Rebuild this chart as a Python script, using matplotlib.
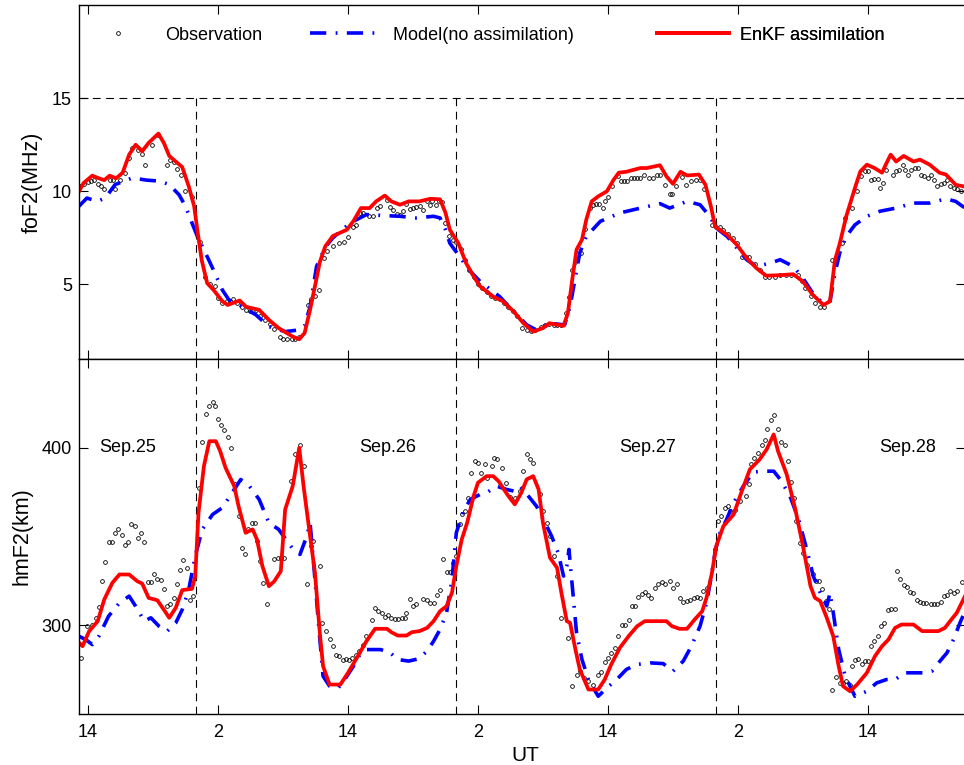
import matplotlib
matplotlib.use("Agg")
import matplotlib.pyplot as plt
import numpy as np

plt.rcParams['font.family'] = ['Liberation Sans', 'DejaVu Sans']

# hours counted from Sep.25 00 UT
fof2_obs_t = [13.3, 13.6, 14.0, 14.3, 14.6, 14.9, 15.2, 15.5, 16.0, 16.3, 16.5, 17.0, 17.4, 17.8, 18.1, 18.6,
              19.0, 19.3, 19.9, 20.5, 21.3, 21.6, 21.9, 22.2, 22.6, 23.0, 23.6, 24.3, 24.8, 25.3, 25.7, 26.0,
              26.4, 26.8, 27.1, 27.4, 27.8, 28.2, 28.6, 29.0, 29.5, 29.9, 30.3, 30.8, 31.2, 31.7, 32.0, 32.4,
              32.8, 33.1, 33.5, 34.3, 34.6, 35.0, 35.3, 35.8, 36.1, 36.6, 37.2, 37.6, 38.0, 38.5, 38.7, 39.1,
              39.4, 39.9, 40.3, 40.7, 41.0, 41.6, 41.9, 42.2, 42.5, 42.8, 43.1, 43.4, 43.7, 44.0, 44.3, 44.65,
              44.9, 45.3, 45.6, 45.8, 46.1, 46.4, 46.7, 47.0, 47.3, 47.7, 48.0, 48.4, 48.8, 49.2, 49.6, 50.0,
              50.4, 50.8, 51.2, 51.6, 52.0, 52.4, 52.8, 53.2, 53.6, 54.1, 54.5, 54.9, 55.3, 55.8, 56.2, 56.6,
              57.0, 57.3, 57.7, 58.1, 58.4, 58.7, 59.0, 59.5, 59.9, 60.3, 60.6, 60.9, 61.2, 61.5, 61.7, 62.0,
              62.4, 62.9, 63.2, 63.5, 63.8, 64.1, 64.4, 64.7, 65.0, 65.3, 65.8, 66.2, 66.5, 66.8, 67.3, 67.7,
              67.9, 68.3, 68.8, 69.2, 69.7, 70.1, 70.5, 70.9, 71.6, 72.0, 72.3, 72.6, 73.1, 73.5, 73.9, 74.4,
              74.7, 75.0, 75.6, 76.0, 76.5, 76.9, 77.4, 77.9, 78.4, 78.9, 79.5, 79.9, 80.2, 80.7, 81.1, 81.6,
              81.9, 82.7, 83.1, 83.6, 83.9, 84.5, 85.0, 85.4, 85.7, 86.0, 86.3, 86.6, 86.9, 87.1, 87.4, 87.7,
              88.3, 88.6, 88.9, 89.2, 89.4, 89.7, 90.0, 90.3, 90.6, 90.9, 91.2, 91.5, 91.8, 92.1, 92.4, 92.7,
              93.0, 93.3, 93.6, 93.9, 94.2, 94.6]
fof2_obs = [10.3, 10.4, 10.5, 10.54, 10.6, 10.4, 10.3, 10.1, 10.6, 10.6, 10.1, 10.6, 11.0, 11.8, 12.3, 12.2,
            12.0, 11.4, 12.5, 13.0, 11.4, 11.7, 11.6, 11.2, 10.9, 10.0, 9.7, 7.3, 5.4, 5.0, 4.9, 4.3,
            4.0, 4.1, 4.1, 4.2, 4.0, 3.8, 3.64, 3.6, 3.64, 3.3, 3.1, 2.9, 2.6, 2.2, 2.1, 2.05,
            2.05, 2.1, 2.2, 3.9, 4.2, 4.4, 4.7, 6.4, 6.8, 7.05, 7.2, 7.3, 7.55, 8.1, 8.17, 8.84,
            8.83, 8.7, 8.69, 9.1, 9.19, 9.55, 9.14, 8.98, 8.8, 8.75, 8.96, 9.32, 9.05, 9.1, 9.14, 9.19,
            9.0, 9.46, 9.28, 9.46, 9.28, 9.46, 9.4, 8.3, 7.58, 7.4, 7.3, 6.9, 6.3, 5.8, 5.4, 5.0,
            4.8, 4.6, 4.4, 4.3, 4.2, 4.0, 3.8, 3.55, 3.3, 2.66, 2.55, 2.5, 2.55, 2.7, 2.85, 2.9,
            2.85, 2.8, 2.8, 3.46, 4.35, 5.8, 6.2, 6.7, 8.0, 9.1, 9.25, 9.3, 9.3, 9.1, 9.5, 9.7,
            10.27, 10.8, 10.57, 10.57, 10.57, 10.7, 10.7, 10.7, 10.7, 10.9, 10.7, 10.7, 10.9, 10.9, 10.36, 9.88,
            9.88, 10.26, 10.75, 10.36, 10.55, 10.6, 10.6, 10.1, 8.2, 8.1, 8.1, 7.9, 7.7, 7.5, 7.2, 6.5,
            6.5, 6.5, 6.1, 5.8, 5.4, 5.4, 5.4, 5.5, 5.5, 5.5, 5.5, 5.2, 4.8, 4.4, 4.0, 3.8,
            3.8, 6.3, 6.5, 7.2, 8.57, 9.1, 10.0, 10.8, 11.1, 11.1, 10.6, 10.65, 10.65, 10.2, 10.47, 11.17,
            10.9, 11.07, 11.17, 11.4, 11.17, 10.9, 11.17, 11.25, 11.25, 10.9, 10.8, 10.7, 10.9, 10.6, 10.3, 10.4,
            10.45, 10.6, 10.3, 10.18, 10.1, 10.0]

fof2_model_t = [13.17, 13.9, 14.85, 15.6, 16.5, 18.1, 19.4, 20.6, 21.5, 22.4, 23.0, 23.6, 24.1, 24.7, 25.5,
                26.4, 27.0, 28.2, 29.5, 30.7, 32.2, 33.5, 34.0, 34.5, 35.1, 35.9, 36.6, 38.2, 39.7, 41.3,
                42.8, 44.3, 45.9, 46.5, 47.0, 47.4, 48.4, 49.3, 50.2, 52.0, 53.3, 54.5, 55.4, 56.6, 58.0,
                58.5, 58.95, 59.4, 60.0, 61.3, 63.1, 65.0, 66.8, 67.7, 69.3, 70.5, 71.4, 72.0, 73.0, 73.9,
                74.8, 75.7, 77.0, 77.9, 79.1, 80.0, 80.9, 81.9, 82.5, 82.95, 83.4, 84.0, 84.8, 85.9, 87.1,
                88.6, 90.2, 91.7, 93.2, 94.1, 94.96]
fof2_model = [9.2, 9.64, 9.46, 9.64, 10.36, 10.72, 10.6, 10.55, 10.36, 9.82, 9.2, 8.3, 7.58, 6.87, 5.88,
              4.71, 4.18, 3.82, 3.37, 2.74, 2.47, 2.56, 2.8, 3.8, 5.97, 7.0, 7.5, 8.3, 8.75, 8.7,
              8.66, 8.57, 8.66, 8.57, 7.94, 7.22, 6.42, 5.7, 5.16, 4.35, 3.55, 2.83, 2.56, 2.92, 2.83,
              3.82, 5.25, 6.7, 7.58, 8.39, 8.84, 9.1, 9.34, 9.1, 9.46, 9.28, 8.66, 8.03, 7.58, 6.96,
              6.33, 5.97, 6.15, 6.33, 5.97, 5.34, 4.54, 3.96, 4.1, 5.6, 6.7, 7.58, 8.2, 8.66, 8.93,
              9.1, 9.37, 9.37, 9.6, 9.46, 9.1]

fof2_enkf_t = [13.17, 13.6, 14.4, 15.0, 15.5, 16.0, 16.6, 17.2, 17.8, 18.4, 19.0, 19.6, 20.5, 21.0, 21.5,
               22.1, 22.7, 23.3, 23.8, 24.1, 24.5, 25.0, 25.6, 26.4, 26.9, 28.0, 28.6, 29.8, 30.7, 31.6,
               32.9, 33.5, 34.0, 34.5, 34.95, 35.4, 35.9, 36.6, 37.9, 38.5, 39.2, 40.0, 40.6, 41.4, 42.0,
               42.8, 43.6, 44.6, 45.6, 46.5, 47.0, 47.4, 48.2, 48.9, 49.6, 50.2, 51.4, 52.3, 53.3, 54.2,
               55.1, 56.0, 56.6, 57.9, 58.3, 58.7, 59.1, 59.6, 60.0, 60.5, 61.1, 61.9, 62.5, 63.0, 63.7,
               65.0, 65.6, 66.8, 67.4, 68.0, 68.7, 69.3, 70.4, 71.0, 71.5, 71.9, 73.0, 73.9, 74.8, 75.7,
               76.6, 77.9, 79.1, 80.0, 80.9, 81.9, 82.5, 82.95, 83.4, 84.0, 84.8, 85.3, 85.9, 86.6, 87.3,
               87.7, 88.1, 88.6, 89.3, 90.2, 90.8, 91.7, 92.6, 93.2, 94.1, 94.96]
fof2_enkf = [10.0, 10.45, 10.84, 10.7, 10.6, 10.84, 10.7, 11.0, 11.97, 12.5, 12.15, 12.6, 13.1, 12.6, 11.9,
             11.6, 11.3, 10.27, 9.2, 7.9, 6.3, 5.07, 4.7, 4.1, 3.9, 4.14, 3.8, 3.64, 3.1, 2.66,
             2.2, 2.06, 2.4, 3.64, 4.9, 6.2, 7.04, 7.6, 7.94, 8.4, 9.1, 9.1, 9.46, 9.77, 9.46,
             9.28, 9.46, 9.46, 9.6, 9.57, 8.85, 7.94, 7.2, 6.15, 5.43, 4.9, 4.35, 4.1, 3.55, 2.92,
             2.47, 2.66, 2.92, 2.78, 3.46, 5.25, 6.87, 7.4, 8.48, 9.46, 9.73, 10.0, 10.6, 11.0, 11.05,
             11.25, 11.25, 11.4, 10.8, 10.4, 11.05, 10.85, 10.9, 10.35, 9.2, 8.1, 7.67, 7.13, 6.42, 5.88,
             5.47, 5.5, 5.55, 5.16, 4.45, 3.9, 4.1, 6.3, 7.2, 8.66, 10.18, 11.07, 11.43, 11.25, 11.0,
             11.5, 11.97, 11.6, 11.9, 11.6, 11.7, 11.43, 11.0, 10.9, 10.35, 10.25]

hmf2_obs_t = [13.4, 13.9, 14.4, 14.7, 15.0, 15.3, 15.6, 15.9, 16.2, 16.5, 16.8, 17.1, 17.4, 17.7, 18.0, 18.3,
              18.6, 18.9, 19.2, 19.5, 19.8, 20.1, 20.4, 20.7, 21.0, 21.3, 21.6, 21.9, 22.2, 22.5, 22.8, 23.1,
              23.4, 23.7, 24.25, 24.55, 24.9, 25.2, 25.5, 25.7, 26.0, 26.3, 26.6, 26.95, 27.2, 27.6, 27.9, 28.2,
              28.5, 28.8, 29.1, 29.4, 29.6, 29.9, 30.2, 30.5, 31.2, 31.5, 31.8, 32.1, 32.7, 33.1, 33.6, 33.9,
              34.2, 34.55, 34.8, 35.4, 35.6, 36.0, 36.3, 36.6, 36.9, 37.2, 37.5, 37.8, 38.1, 38.4, 38.7, 39.0,
              39.4, 39.7, 40.2, 40.5, 40.8, 41.1, 41.4, 41.7, 42.0, 42.3, 42.6, 42.95, 43.3, 43.4, 43.7, 44.0,
              44.3, 44.95, 45.3, 45.6, 45.9, 46.2, 46.5, 46.8, 47.1, 47.4, 47.7, 48.0, 48.3, 48.5, 48.8, 49.1,
              49.4, 49.7, 50.0, 50.3, 50.65, 50.8, 51.3, 51.5, 51.8, 52.2, 52.6, 53.0, 53.4, 53.9, 54.2, 54.5,
              54.8, 55.1, 55.7, 56.0, 56.35, 56.65, 57.0, 57.3, 57.7, 58.3, 58.7, 59.1, 59.4, 59.8, 60.2, 60.65,
              61.1, 61.4, 61.7, 62.0, 62.3, 62.65, 62.95, 63.3, 63.6, 63.9, 64.2, 64.5, 64.8, 65.1, 65.4, 65.7,
              66.0, 66.35, 66.65, 66.95, 67.3, 67.7, 68.0, 68.35, 68.65, 68.95, 69.3, 69.6, 69.9, 70.2, 70.5, 70.8,
              71.1, 71.9, 72.2, 72.4, 72.8, 73.1, 73.3, 73.7, 74.2, 74.7, 75.0, 75.2, 75.5, 75.85, 76.2, 76.5,
              76.7, 77.05, 77.35, 77.7, 78.0, 78.3, 78.6, 78.9, 79.2, 79.4, 79.7, 80.0, 80.4, 80.9, 81.2, 81.5,
              81.8, 82.1, 82.4, 82.7, 83.05, 83.4, 83.7, 83.97, 84.3, 84.5, 84.8, 85.1, 85.45, 85.75, 86.0, 86.3,
              86.6, 86.9, 87.2, 87.5, 87.85, 88.15, 88.5, 88.7, 89.0, 89.3, 89.6, 89.9, 90.2, 90.5, 90.8, 91.1,
              91.4, 91.8, 92.1, 92.4, 92.7, 93.0, 93.3, 93.6, 93.9, 94.2, 94.7]
hmf2_obs = [281.6, 299.5, 300.4, 304.2, 310.2, 324.8, 335.5, 346.8, 347.0, 351.7, 354.5, 350.8, 345.1, 346.8, 357.1, 355.8,
            348.9, 351.7, 347.0, 324.3, 324.3, 329.1, 326.3, 325.4, 320.7, 311.1, 311.7, 315.4, 323.3, 331.4, 336.7, 332.0,
            314.5, 316.4, 377.4, 403.2, 418.8, 423.8, 425.9, 423.5, 416.0, 412.6, 409.8, 406.0, 400.0, 379.3, 361.5, 343.6,
            339.9, 354.0, 357.7, 357.7, 347.4, 336.1, 323.9, 311.7, 337.4, 338.0, 338.0, 338.0, 381.2, 396.2, 401.3, 389.7,
            323.0, 344.6, 347.4, 333.3, 301.4, 296.7, 292.0, 288.2, 283.5, 282.6, 280.7, 281.1, 280.7, 281.6, 283.0, 285.4,
            289.1, 293.8, 303.2, 309.8, 308.0, 307.0, 304.7, 305.5, 304.2, 303.6, 303.6, 304.2, 304.2, 307.0, 314.9, 311.1,
            311.7, 314.9, 314.5, 312.6, 312.6, 317.3, 320.1, 337.1, 329.9, 329.9, 335.2, 338.9, 356.8, 362.4, 364.3, 371.8,
            385.9, 392.5, 391.5, 385.9, 390.6, 383.1, 390.0, 394.0, 393.4, 388.7, 380.0, 372.0, 371.8, 375.6, 386.8, 396.2,
            393.4, 391.5, 373.7, 364.3, 357.7, 350.2, 338.9, 328.0, 304.2, 292.9, 265.7, 272.2, 274.1, 270.4, 268.5, 266.6,
            272.2, 273.6, 279.2, 281.6, 284.4, 287.3, 294.2, 300.4, 300.4, 303.2, 310.8, 311.1, 315.8, 317.7, 318.6, 317.3,
            315.5, 321.1, 323.5, 324.3, 323.0, 324.8, 321.1, 323.5, 315.5, 313.0, 313.6, 314.5, 315.5, 316.0, 315.5, 319.2,
            321.1, 342.7, 358.7, 361.5, 366.2, 367.1, 364.3, 365.0, 370.0, 372.7, 379.3, 391.0, 394.0, 396.8, 401.5, 404.1,
            410.3, 415.9, 418.4, 410.7, 403.4, 401.3, 392.5, 380.8, 371.8, 358.6, 346.4, 340.8, 334.2, 328.6, 324.8, 324.8,
            320.5, 313.5, 309.2, 263.8, 270.7, 267.5, 267.5, 268.5, 266.6, 277.3, 280.7, 281.0, 278.4, 279.7, 280.1, 288.2,
            291.0, 293.8, 299.5, 301.3, 308.8, 309.2, 309.2, 330.5, 326.3, 322.4, 321.6, 318.8, 318.2, 314.1, 313.2, 312.6,
            312.6, 312.2, 311.7, 311.7, 313.0, 316.4, 317.3, 319.2, 317.9, 319.2, 324.3]

hmf2_model_t = [13.17, 13.8, 14.4, 15.0, 15.9, 16.9, 17.8, 18.4, 19.2, 19.8, 20.55, 21.3, 22.1, 22.7, 23.3,
                23.9, 24.55, 25.5, 26.4, 27.3, 28.1, 28.9, 29.8, 30.7, 31.6, 32.5, 32.95, 33.57, 34.2, 34.5,
                34.8, 35.3, 35.7, 36.3, 37.1, 37.7, 38.5, 39.1, 39.7, 41.0, 41.9, 42.6, 43.6, 44.5, 45.3,
                45.9, 46.5, 47.1, 47.6, 48.0, 48.65, 49.3, 50.2, 50.8, 51.7, 52.65, 53.3, 53.9, 54.65, 55.4,
                56.2, 56.8, 57.4, 57.9, 58.2, 58.4, 58.65, 59.1, 59.6, 60.2, 61.1, 61.9, 62.8, 63.7, 64.65,
                65.9, 67.1, 68.0, 68.95, 69.7, 70.5, 71.1, 71.6, 71.9, 72.35, 72.95, 73.6, 74.5, 75.4, 76.35,
                77.3, 77.9, 78.8, 79.6, 80.35, 80.95, 81.6, 82.2, 82.5, 82.8, 83.3, 83.9, 84.8, 85.9, 86.8,
                87.7, 88.5, 89.4, 91.1, 91.9, 92.65, 93.3, 93.9, 94.5, 94.96]
hmf2_model = [293.8, 291.9, 289.1, 293.8, 305.1, 312.6, 316.4, 310.7, 302.3, 304.2, 299.5, 296.6, 301.3, 308.8, 320.1,
              338.9, 354.0, 362.4, 366.2, 374.6, 382.1, 378.4, 370.9, 357.7, 354.0, 346.4, 342.7, 339.9, 350.2, 357.7,
              337.1, 299.5, 271.3, 265.7, 264.7, 269.4, 276.9, 283.5, 286.3, 286.3, 284.5, 280.7, 279.8, 281.1, 285.4,
              291.0, 297.6, 307.0, 325.8, 352.1, 364.3, 370.9, 373.7, 374.6, 378.4, 376.5, 375.6, 378.4, 372.8, 367.1,
              357.7, 350.2, 340.8, 327.7, 333.3, 342.7, 325.8, 295.7, 280.7, 269.4, 260.0, 264.7, 269.4, 275.1, 277.9,
              278.8, 278.4, 274.1, 279.8, 288.2, 299.5, 312.6, 329.5, 341.8, 352.1, 359.6, 369.0, 378.4, 386.3, 386.8,
              386.8, 382.2, 372.8, 359.6, 342.7, 327.7, 318.3, 310.8, 318.3, 307.0, 286.3, 271.3, 260.0, 262.8, 267.5,
              269.4, 269.4, 273.2, 273.2, 274.1, 279.8, 284.5, 292.0, 301.4, 307.9]

hmf2_enkf_t = [13.17, 13.5, 14.1, 14.9, 15.5, 16.25, 16.9, 17.8, 18.55, 19.0, 19.6, 20.4, 21.0, 21.5, 22.1,
               22.7, 23.6, 23.9, 24.2, 24.7, 25.2, 25.8, 26.2, 26.7, 27.5, 27.9, 28.55, 29.2, 29.6, 30.1,
               30.7, 31.2, 31.8, 32.2, 32.9, 33.5, 33.9, 34.3, 34.95, 35.4, 35.7, 36.3, 37.3, 38.0, 39.0,
               39.7, 40.5, 41.6, 42.0, 42.6, 43.4, 43.9, 44.6, 45.3, 45.9, 46.5, 47.1, 47.6, 48.0, 48.5,
               49.0, 49.6, 50.0, 50.8, 51.4, 51.9, 52.7, 53.4, 54.0, 54.5, 55.1, 55.6, 56.0, 56.65, 57.3,
               57.7, 58.2, 58.5, 59.0, 59.4, 60.2, 61.1, 61.7, 62.3, 63.1, 63.9, 64.7, 65.4, 67.4, 67.9,
               68.6, 69.3, 70.0, 70.7, 71.1, 71.6, 72.0, 72.65, 73.6, 74.3, 75.1, 76.0, 76.65, 77.3, 77.7,
               78.5, 79.3, 80.0, 80.7, 81.1, 81.6, 82.2, 82.8, 83.3, 83.7, 84.35, 85.0, 85.9, 86.65, 87.3,
               87.9, 88.5, 89.1, 90.2, 91.0, 92.5, 93.1, 93.7, 94.2, 94.96]
hmf2_enkf = [290.1, 288.2, 296.6, 302.3, 314.5, 323.9, 328.6, 328.6, 324.8, 323.5, 315.4, 314.1, 308.8, 304.2, 309.8,
             319.8, 320.5, 327.6, 363.3, 389.6, 403.7, 403.7, 398.1, 388.7, 378.4, 367.1, 352.1, 354.0, 348.3, 333.3,
             322.0, 324.8, 330.5, 365.2, 378.4, 400.0, 378.4, 359.6, 329.6, 295.7, 277.0, 266.6, 266.6, 273.2, 283.5,
             291.0, 298.0, 298.0, 296.1, 294.2, 294.2, 296.1, 296.7, 298.5, 302.3, 307.9, 310.8, 318.3, 333.3, 348.3,
             357.7, 372.8, 380.3, 384.0, 384.0, 381.2, 373.7, 368.1, 374.6, 382.2, 384.0, 376.5, 357.7, 338.0, 332.4,
             318.3, 302.3, 301.4, 286.3, 275.1, 263.8, 263.8, 269.4, 277.9, 287.3, 293.8, 299.5, 302.3, 302.3, 299.5,
             298.0, 298.0, 303.2, 307.9, 315.5, 329.5, 344.6, 355.8, 362.4, 374.6, 387.8, 393.4, 399.1, 407.5, 398.1,
             385.0, 365.2, 344.6, 322.0, 315.5, 313.6, 304.2, 293.8, 276.9, 265.7, 262.8, 266.6, 273.2, 282.6, 288.2,
             292.0, 298.5, 300.4, 300.4, 296.7, 296.7, 298.5, 303.2, 307.0, 316.4]

day_labels = ['Sep.25', 'Sep.26', 'Sep.27', 'Sep.28']
day_label_t = [17.7, 41.7, 65.7, 89.7]
midnights = [24, 48, 72]
xticks = [14, 26, 38, 50, 62, 74, 86]
xlim = (13.17, 94.96)

W, H = 964, 765
fig = plt.figure(figsize=(W / 100, H / 100), dpi=100)
left = 79 / W
width = (965 - 79) / W
ax1 = fig.add_axes([left, (H - 359) / H, width, (359 - 5) / H])
ax2 = fig.add_axes([left, (H - 714) / H, width, (714 - 359) / H])

obs_kw = dict(ls='none', marker='o', ms=2.7, mfc='none', mec='k', mew=0.6)
model_kw = dict(color=(0, 0, 1), lw=2.6, ls=(0, (4.5, 2.6, 0.5, 2.6)))
enkf_kw = dict(color=(1, 0, 0), lw=2.7, solid_joinstyle='round')

ax1.plot(fof2_obs_t, fof2_obs, label='Observation', **obs_kw)
ax1.plot(fof2_model_t, fof2_model, label='Model(no assimilation)', **model_kw)
ax1.plot(fof2_enkf_t, fof2_enkf, label='EnKF assimilation', **enkf_kw)

ax2.plot(hmf2_obs_t, hmf2_obs, **obs_kw)
ax2.plot(hmf2_model_t, hmf2_model, **model_kw)
ax2.plot(hmf2_enkf_t, hmf2_enkf, **enkf_kw)

ax1.set_ylim(1, 20)
ax2.set_ylim(250, 450)
ax1.axhline(15, color='k', lw=0.8, ls=(0, (7, 5)), zorder=1)
for m in midnights:
    ax1.axvline(m, ymin=0, ymax=(15 - 1) / 19, color='k', lw=0.8, ls=(0, (7, 5)), zorder=1)
    ax2.axvline(m, color='k', lw=0.8, ls=(0, (7, 5)), zorder=1)

for ax in (ax1, ax2):
    ax.set_xlim(*xlim)
    ax.set_xticks(xticks)
    ax.tick_params(direction='in', length=6.5, width=0.8, top=True, right=True,
                   labelsize=13, pad=5)
    for s in ax.spines.values():
        s.set_linewidth(1.0)

ax1.set_yticks([5, 10, 15])
ax1.set_xticklabels([])
ax2.set_yticks([300, 400])
ax2.set_xticklabels([str(t % 24) for t in xticks])
ax2.tick_params(axis='x', pad=7)

ax1.set_ylabel('foF2(MHz)', fontsize=15.5)
ax1.yaxis.set_label_coords((43 - 79) / 886, 0.5)
ax2.set_ylabel('hmF2(km)', fontsize=15.5)
ax2.yaxis.set_label_coords((33 - 79) / 886, 0.5)
ax2.set_xlabel('UT', fontsize=15)
ax2.xaxis.set_label_coords((525 - 79) / 886, -0.09)

for t, lab in zip(day_label_t, day_labels):
    ax2.text(t, 400, lab, ha='center', va='center', fontsize=13)

# three separate legend entries, placed like the original
handles, labels = ax1.get_legend_handles_labels()
starts = [82, 310, 657]
for h, l, x0 in zip(handles, labels, starts):
    leg = ax1.legend([h], [l], loc='center left', bbox_to_anchor=((x0 - 79) / 886, (359 - 35) / 354),
                     frameon=False, fontsize=13, handlelength=4.0, handletextpad=0.6,
                     borderpad=0, borderaxespad=0, markerscale=1.0)
    ax1.add_artist(leg)

fig.savefig('out.png', dpi=100)
